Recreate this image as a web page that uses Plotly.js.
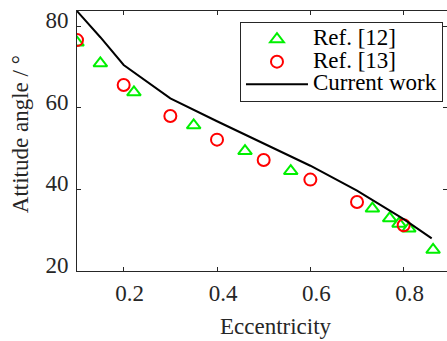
<!DOCTYPE html>
<html>
<head>
<meta charset="utf-8">
<script src="https://cdn.plot.ly/plotly-3.0.1.min.js"></script>
<style>html,body{margin:0;padding:0;background:#fff;}#chart{width:447px;height:341px;}</style>
</head>
<body>
<div id="chart"></div>
<script>
// Ref. [12] (green triangles)
const ref12X = [0.10, 0.15, 0.222, 0.35, 0.46, 0.558, 0.733, 0.77, 0.79, 0.811, 0.863];
const ref12Y = [76.0, 70.9, 63.8, 55.7, 49.4, 44.5, 35.3, 32.9, 31.6, 30.4, 25.2];
// Ref. [13] (red circles)
const ref13X = [0.10, 0.20, 0.30, 0.40, 0.50, 0.60, 0.70, 0.80];
const ref13Y = [76.6, 65.6, 58.0, 52.2, 47.2, 42.4, 36.9, 31.2];
// Current work (black line)
const curX = [0.10, 0.15, 0.20, 0.30, 0.40, 0.50, 0.60, 0.70, 0.80, 0.86];
const curY = [83.7, 77.3, 70.5, 62.3, 56.7, 51.2, 45.8, 39.7, 32.7, 28.0];
const names = ["Ref. [12]", "Ref. [13]", "Current work"];
const xTicks = [0.2, 0.4, 0.6, 0.8];
const yTicks = [20, 40, 60, 80];
const xTitle = 'Eccentricity';
const yTitle = 'Attitude angle / °';

const ink = '#262626';
const fontFam = 'Liberation Serif, Times New Roman, serif';
const legendName = s => '<span style="font-size:23px">' + s + '</span>';

const traces = [
  {x: ref12X, y: ref12Y, name: legendName(names[0]), type: 'scatter', mode: 'markers',
   marker: {symbol: 'triangle-up-open', size: 12, color: '#00f000', line: {width: 2, color: '#00f000'}}},
  {x: ref13X, y: ref13Y, name: legendName(names[1]), type: 'scatter', mode: 'markers',
   marker: {symbol: 'circle-open', size: 12, color: '#ff0000', line: {width: 2, color: '#ff0000'}}},
  {x: curX, y: curY, name: legendName(names[2]), type: 'scatter', mode: 'lines',
   line: {color: '#000000', width: 2}}
];

const axisCommon = {
  showgrid: false, zeroline: false, showline: true, linecolor: ink, linewidth: 1,
  mirror: 'allticks', ticks: 'inside', ticklen: 4, tickcolor: ink, tickwidth: 1,
  tickfont: {family: fontFam, size: 23, color: ink}
};

const layout = {
  width: 447, height: 341,
  margin: {l: 77, r: 0, t: 11, b: 70},
  paper_bgcolor: '#ffffff', plot_bgcolor: '#ffffff',
  font: {family: fontFam, color: ink},
  showlegend: true,
  legend: {
    x: 0.4405, y: 0.958, xanchor: 'left', yanchor: 'top',
    bordercolor: ink, borderwidth: 1, bgcolor: '#ffffff',
    font: {family: fontFam, size: 15, color: '#000'},
    itemwidth: 62, tracegroupgap: 0
  },
  xaxis: Object.assign({}, axisCommon, {
    range: [0.1, 0.8928], tickvals: xTicks, ticktext: xTicks.map(v => v.toFixed(1)),
    ticklabelstandoff: 1, ticklabelshift: 6
  }),
  yaxis: Object.assign({}, axisCommon, {
    range: [20, 83.73], tickvals: yTicks, ticklabelstandoff: 3, ticklabelshift: -6
  }),
  annotations: [
    {text: xTitle, xref: 'paper', yref: 'paper', x: 0.5378, y: -0.2146, xanchor: 'center', yanchor: 'middle',
     showarrow: false, font: {family: fontFam, size: 23, color: ink}},
    {text: yTitle, xref: 'paper', yref: 'paper', x: -0.1508, y: 0.527, xanchor: 'center', yanchor: 'middle',
     textangle: -90, showarrow: false, font: {family: fontFam, size: 23, color: ink}}
  ]
};

Plotly.newPlot('chart', traces, layout, {displayModeBar: false, staticPlot: true});
</script>
</body>
</html>
